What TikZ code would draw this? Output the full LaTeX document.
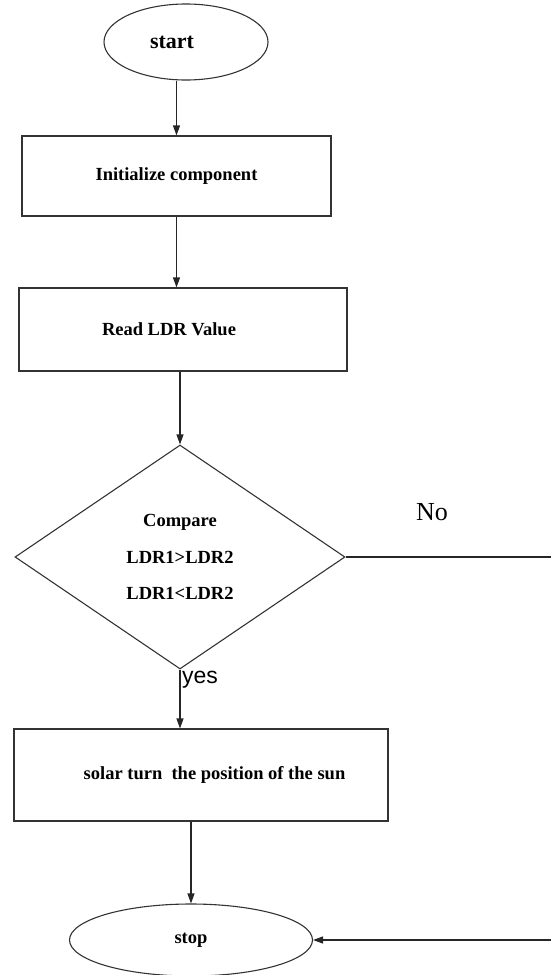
\documentclass[tikz,border=0pt]{standalone}
\usepackage{fontspec}
\setmainfont{Liberation Serif}
\newfontfamily\yesfont{Liberation Sans}
\usetikzlibrary{shapes.geometric,arrows.meta}

\begin{document}
\begin{tikzpicture}[x=1pt,y=-1pt,>={Triangle[length=10pt,width=7pt]},
  box/.style={draw=black!80,line width=1.1pt,rectangle,inner sep=0pt,font=\bfseries\fontsize{18.5}{22}\selectfont},
  term/.style={box,ellipse},
  decide/.style={box,diamond,align=center,font=\bfseries\fontsize{18.5}{36.5}\selectfont},
  line/.style={draw=black!85,line width=1.1pt}]
\useasboundingbox (0,0) rectangle (551,975);
\node[term,minimum width=164pt,minimum height=76pt,font=\bfseries\fontsize{22}{26}\selectfont] (start) at (186,42) {start\hspace*{28pt}};
\node[box,minimum width=309pt,minimum height=80pt] (init) at (176.5,176) {Initialize component};
\node[box,minimum width=328pt,minimum height=83pt] (read) at (183,329.5) {Read LDR Value\hspace*{28pt}};
\node[decide,minimum width=330pt,minimum height=224pt] (dec) at (180,557) {Compare\\LDR1>LDR2\\LDR1<LDR2};
\node[box,minimum width=374pt,minimum height=92pt] (solar) at (201,775) {\hspace*{27pt}solar turn\ \ the position of the sun};
\node[term,minimum width=243pt,minimum height=72pt] (stop) at (191,940) {stop};
\node[inner sep=0pt,font=\fontsize{26}{30}\selectfont] (no) at (432,512) {No};
\node[inner sep=0pt,anchor=west,font=\yesfont\fontsize{23}{27}\selectfont] (yes) at (182,680) {yes};
\coordinate (noturn) at (555,557);
% connectors
\draw[line,->] (start.south -| init) -- (init.north);
\draw[line,->] (init.south) -- (read.north -| init.south);
\draw[line,->] (read.south -| dec) -- (dec.north);
\draw[line,->] (dec.south) -- (solar.north -| dec.south);
\draw[line,->] (solar.south -| stop) -- (stop.north);
\draw[line,->] (dec.east) -- (noturn) |- (stop.east);
\end{tikzpicture}
\end{document}
